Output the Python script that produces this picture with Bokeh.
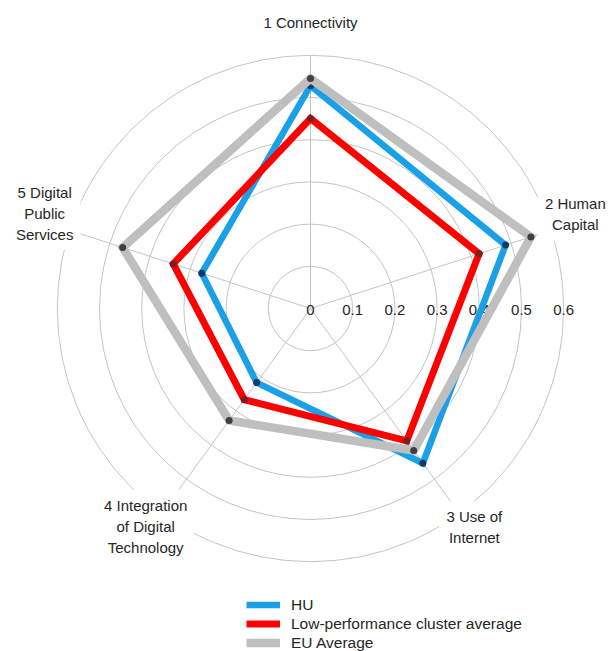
import numpy as np
from bokeh.plotting import figure
from bokeh.models import Label, Legend, LegendItem, Range1d
from bokeh.core.properties import value
from bokeh.embed import file_html
from bokeh.resources import INLINE

# ---------------- data ----------------
categories = ["1 Connectivity", "2 Human\nCapital", "3 Use of\nInternet",
              "4 Integration\nof Digital\nTechnology", "5 Digital\nPublic\nServices"]
hu = [0.528, 0.486, 0.453, 0.217, 0.271]
low_cluster = [0.450, 0.420, 0.388, 0.267, 0.342]
eu_avg = [0.545, 0.549, 0.416, 0.328, 0.468]
series_names = ["HU", "Low-performance cluster average", "EU Average"]
radial_ticks = [0.0, 0.1, 0.2, 0.3, 0.4, 0.5, 0.6]
radial_tick_labels = ["0", "0.1", "0.2", "0.3", "0.4", "0.5", "0.6"]

# ---------------- layout ----------------
W, H = 611, 651
PX = 422.0             # pixels per data unit
CX, CY = 310.0, 308.0  # centre in figure pixels (from top-left)
RMAX = 0.6
FONT = "Liberation Sans"
TXT = "#262626"
GRID = "#C4C4C4"

p = figure(width=W, height=H, output_backend="svg", toolbar_location=None,
           x_range=Range1d(-CX / PX, (W - CX) / PX),
           y_range=Range1d(-(H - CY) / PX, CY / PX),
           min_border=0, outline_line_color=None, background_fill_color="white",
           border_fill_color="white")
p.axis.visible = False
p.grid.visible = False

n = len(categories)
angles = np.pi / 2 - np.arange(n) * 2 * np.pi / n

# grid circles
for r in radial_ticks[1:]:
    p.circle(x=0, y=0, radius=r, fill_color=None, line_color=GRID, line_width=1)

# spokes
for a in angles:
    p.line([0, RMAX * np.cos(a)], [0, RMAX * np.sin(a)], line_color=GRID, line_width=1)

# radial tick labels
p.text(x=radial_ticks, y=[0] * len(radial_ticks), text=radial_tick_labels,
       text_font=value(FONT), text_font_size="15px", text_color=TXT,
       text_align="center", text_baseline="middle", y_offset=1)

# series
series = [
    (hu, "#1AA0E6", "#0E3A6E", 6.5),
    (low_cluster, "#FF0000", "#7A1E1E", 7),
    (eu_avg, "#BFBFBF", "#404040", 8.5),
]
items = []
for (vals, col, mcol, lw), name in zip(series, series_names):
    v = np.array(vals)
    xs = v * np.cos(angles)
    ys = v * np.sin(angles)
    # close the ring and retrace the first segment so every vertex gets a join
    xl = list(xs) + [xs[0], xs[1]]
    yl = list(ys) + [ys[0], ys[1]]
    lr = p.line(xl, yl, line_color=col, line_width=lw, line_join="miter", line_cap="butt")
    p.scatter(xs, ys, size=7, fill_color=mcol, line_color=None)
    items.append(LegendItem(label=name, renderers=[lr]))

# category labels (white boxes hide grid ends)
label_offsets = [(0, 33), (24, 16), (15, -14), (-16, -13), (-25, 17)]
for cat, a, (dx, dy) in zip(categories, angles, label_offsets):
    p.add_layout(Label(x=RMAX * np.cos(a), y=RMAX * np.sin(a), x_offset=dx, y_offset=dy,
                       text=cat, text_font=FONT, text_font_size="15px", text_color=TXT,
                       text_align="center", text_baseline="middle", text_line_height=1.25,
                       background_fill_color="white", padding=7))

legend = Legend(items=items, location=(246, -1), orientation="vertical",
                glyph_width=34, glyph_height=19, label_height=19, spacing=0,
                padding=0, margin=0, label_standoff=11,
                label_text_font=FONT, label_text_font_size="15.5px", label_text_color=TXT,
                border_line_color=None, background_fill_alpha=0)
p.add_layout(legend, "center")

open("out.html", "w").write(file_html(p, INLINE))
